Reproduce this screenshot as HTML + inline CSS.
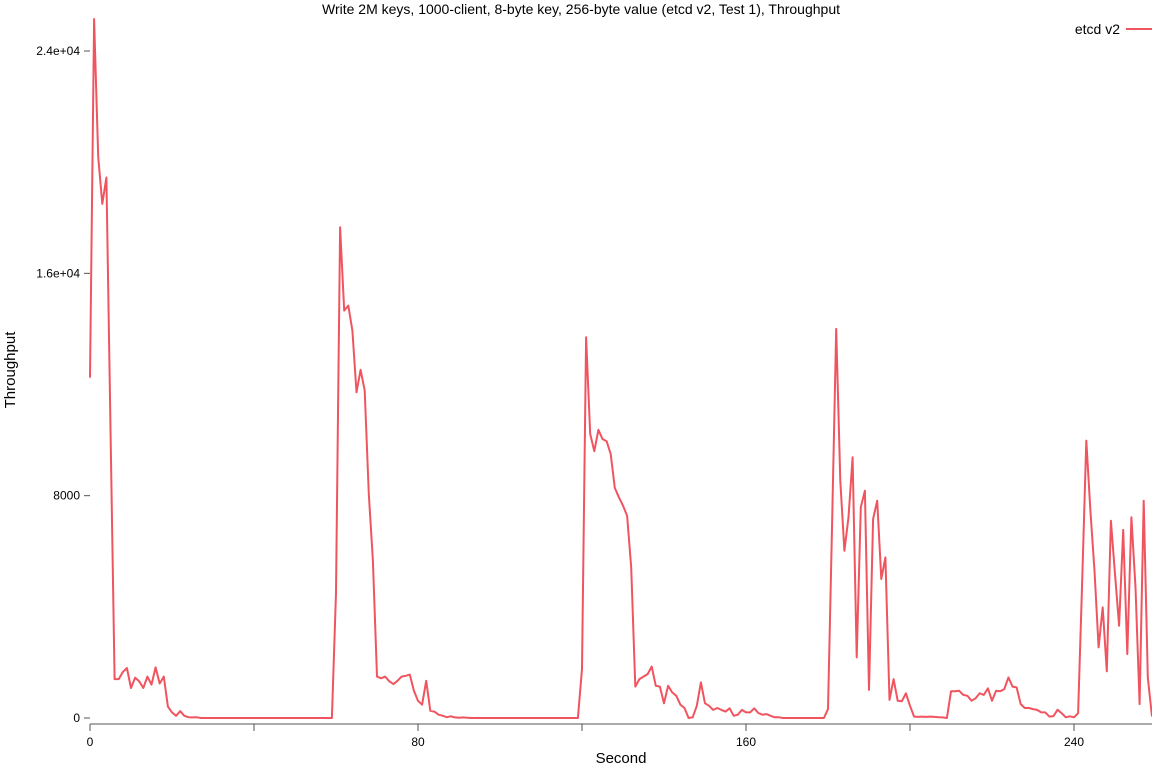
<!DOCTYPE html>
<html><head><meta charset="utf-8"><style>
body{margin:0;background:#fff;}
svg{display:block;font-family:"Liberation Sans",sans-serif;}
</style></head><body>
<svg id="chart" width="1152" height="768">
<text x="581" y="14" text-anchor="middle" font-size="14">Write 2M keys, 1000-client, 8-byte key, 256-byte value (etcd v2, Test 1), Throughput</text>
<text x="621" y="763" text-anchor="middle" font-size="15">Second</text>
<text transform="translate(15,370) rotate(-90)" text-anchor="middle" font-size="15">Throughput</text>
<g>
<text x="1120" y="34" text-anchor="end" font-size="14">etcd v2</text>
<line x1="1126" y1="29" x2="1152" y2="29" stroke="#f0545f" stroke-width="2"/>
</g>
<g id="axes"></g>
<g id="series"></g>
</svg>
<script>
const xTicks=[0,40,80,120,160,200,240];
const xTickLabels=["0","","80","","160","","240"];
const yTicks=[0,8000,16000,24000];
const yTickLabels=["0","8000","1.6e+04","2.4e+04"];
const throughput=[12250,25150,20200,18500,19450,10400,1400,1400,1650,1800,1080,1450,1320,1080,1490,1200,1820,1240,1490,410,200,80,250,80,30,20,30,0,0,0,
0,0,0,0,0,0,0,0,0,0,0,0,0,0,0,0,0,0,0,0,0,0,0,0,0,0,0,0,0,0,
4500,17660,14660,14840,13940,11720,12530,11780,8060,5660,1490,1430,1490,1320,1220,1340,1490,1520,1560,980,620,480,1340,260,230,120,84,30,60,20,
10,20,10,0,0,0,0,0,0,0,0,0,0,0,0,0,0,0,0,0,0,0,0,0,0,0,0,0,0,0,
1760,13700,10220,9600,10370,10040,9960,9500,8280,7940,7640,7280,5420,1130,1400,1490,1580,1850,1160,1130,530,1160,920,800,480,360,0,24,440,1280,
530,440,290,360,290,230,350,80,120,290,200,200,350,180,120,140,80,24,24,0,0,0,0,0,0,0,0,0,0,0,
320,7000,14000,8540,6020,7220,9380,2180,7580,8180,1010,7160,7820,5000,5780,650,1400,620,600,890,440,50,40,50,40,50,40,30,20,0,
960,960,980,830,800,620,710,890,830,1070,620,980,960,1040,1460,1130,1100,500,360,360,320,290,200,200,50,70,300,170,24,60,
24,170,4940,9980,7460,5300,2540,3980,1680,7100,5180,3320,6770,2300,7220,4700,500,7820,1460,80,80];
const seconds=throughput.map((v,i)=>i);
// fix: series starts at second 0 with index offset where first value 12250 at 0, peak at 1 ...
</script>
<script>
(function(){
const NS="http://www.w3.org/2000/svg";
const X0=90,XS=4.1,Y0=718,YS=(718-51)/24000;
const xs=s=>X0+XS*s, ys=v=>Y0-v*YS;
const axes=document.getElementById('axes');
function mk(tag,attrs,parent){const e=document.createElementNS(NS,tag);for(const k in attrs)e.setAttribute(k,attrs[k]);parent.appendChild(e);return e;}
const ax=mk('line',{x1:90,y1:724,x2:1152,y2:724,stroke:'#555','stroke-width':1},axes);


xTicks.forEach((t,i)=>{
 const l=mk('line',{x1:xs(t),y1:724,x2:xs(t),y2:731,stroke:'#555','stroke-width':1},axes);
 
 
 if(xTickLabels[i]){
  const tx=mk('text',{x:xs(t),y:746,'text-anchor':'middle','font-size':12},axes);
  tx.textContent=xTickLabels[i];
  
  
 }
});
yTicks.forEach((t,i)=>{
 const l=mk('line',{x1:84,y1:ys(t),x2:90,y2:ys(t),stroke:'#555','stroke-width':1},axes);
 
 
 const tx=mk('text',{x:80,y:ys(t)+4,'text-anchor':'end','font-size':12},axes);
 tx.textContent=yTickLabels[i];
 
 
});
const pts=throughput.map((v,i)=>xs(seconds[i]).toFixed(1)+','+ys(v).toFixed(1)).join(' ');
const pl=mk('polyline',{points:pts,fill:'none',stroke:'#f0545f','stroke-width':2,'stroke-linejoin':'round'},document.getElementById('series'));


})();
</script>
</body></html>
